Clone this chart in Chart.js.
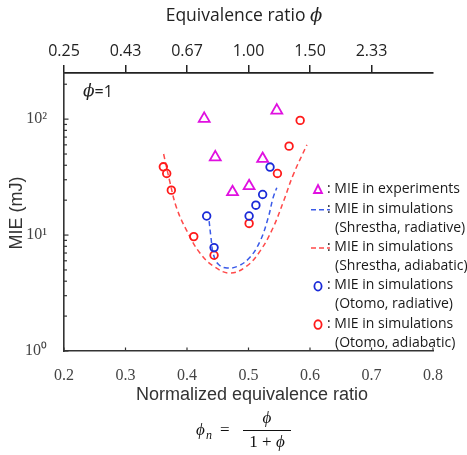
<!DOCTYPE html>
<html><head><meta charset="utf-8">
<script src="https://cdn.jsdelivr.net/npm/chart.js@4/dist/chart.umd.min.js"></script>
<style>html,body{margin:0;padding:0;background:#fff;}canvas{display:block;}</style>
</head><body>
<canvas id="c" width="467" height="455"></canvas>
<script>
// ---- data ----
const expX = [0.428, 0.446, 0.474, 0.501, 0.523, 0.546];
const expY = [101, 47, 23.5, 26.5, 45.5, 119];

const otomoRadX = [0.432, 0.444, 0.501, 0.512, 0.523, 0.535];
const otomoRadY = [14.6, 7.8, 14.6, 18.1, 22.4, 38.6];

const otomoAdiX = [0.3615, 0.367, 0.3745, 0.411, 0.444, 0.501, 0.547, 0.566, 0.584];
const otomoAdiY = [38.8, 34, 24.4, 9.7, 6.7, 12.6, 34, 58.5, 97.5];

const shrRadX = [0.436, 0.439, 0.443, 0.451, 0.465, 0.483, 0.502, 0.519, 0.532, 0.540, 0.546];
const shrRadY = [13.2, 9.5, 6.8, 5.6, 5.2, 5.4, 6.4, 8.9, 14.1, 21, 25.6];

const shrAdiX = [0.362, 0.372, 0.383, 0.400, 0.421, 0.443, 0.470, 0.497, 0.519, 0.540, 0.557, 0.573, 0.595];
const shrAdiY = [50, 29, 17.2, 10.8, 7.0, 5.4, 4.7, 5.4, 7.3, 11.6, 19.6, 33.4, 60];

const xTicks = [0.2, 0.3, 0.4, 0.5, 0.6, 0.7, 0.8];
const yTicks = [1, 10, 100];
const yTickLabels = ['10\u2070', '10\u00B9', '10\u00B2'];
const phiTickPos = [0.2, 0.3, 0.4, 0.5, 0.6, 0.7];
const phiTickLabels = ['0.25', '0.43', '0.67', '1.00', '1.50', '2.33'];

const legendLines = [
  ': MIE in experiments',
  ': MIE in simulations', '(Shrestha, radiative)',
  ': MIE in simulations', '(Shrestha, adiabatic)',
  ': MIE in simulations', '(Otomo, radiative)',
  ': MIE in simulations', '(Otomo, adiabatic)'
];

// ---- styles ----
const MAG = '#e010e0', BLUE = '#1a2ad8', RED = '#ff1a1a', BLUE_L = '#3a5ae8', RED_L = '#ff4a4a';
const pts = (xs, ys) => xs.map((x, i) => ({x, y: ys[i]}));

const overlay = {
  id: 'overlay',
  afterDraw(chart) {
    const ctx = chart.ctx, xs = chart.scales.x, ys = chart.scales.y;
    ctx.save();
    ctx.strokeStyle = '#333'; ctx.lineWidth = 1.2;
    const ln = (a, b, c, d) => { ctx.beginPath(); ctx.moveTo(a, b); ctx.lineTo(c, d); ctx.stroke(); };
    xTicks.forEach(v => { const px = xs.getPixelForValue(v); ln(px, ys.bottom, px, ys.bottom - 3.5); });
    yTicks.forEach(d => {
      for (let m = 1; m <= 9; m++) {
        const v = m * d; if (v > ys.max) break;
        const py = ys.getPixelForValue(v);
        ln(xs.left, py, xs.left + (m === 1 ? 4.5 : 3), py);
      }
    });
    ctx.fillStyle = '#222';
    ctx.textBaseline = 'middle';
    // top title
    const t1 = 'Equivalence ratio ';
    ctx.font = 'italic 18px "DejaVu Serif"';
    const wphi = ctx.measureText('\u03D5').width;
    ctx.font = '17.5px "Open Sans"';
    const w1 = ctx.measureText(t1).width;
    let sx = 244 - (w1 + wphi) / 2;
    ctx.textAlign = 'left';
    ctx.fillText(t1, sx, 16);
    ctx.font = 'italic 18px "DejaVu Serif"';
    ctx.fillText('\u03D5', sx + w1, 16);
    // phi=1
    ctx.font = 'italic 17px "DejaVu Serif"';
    ctx.fillText('\u03D5', 83, 92);
    const wp = ctx.measureText('\u03D5').width;
    ctx.font = '16px "Open Sans"';
    ctx.fillText('=1', 83 + wp, 92);
    // y title
    ctx.save();
    ctx.translate(17, 213); ctx.rotate(-Math.PI / 2);
    ctx.textAlign = 'center';
    ctx.font = '18px "Liberation Sans"';
    ctx.fillStyle = '#333';
    ctx.fillText('MIE (mJ)', 0, 0);
    ctx.restore();
    // x title
    ctx.textAlign = 'center';
    ctx.fillStyle = '#333';
    ctx.font = '18px "Liberation Sans"';
    ctx.fillText('Normalized equivalence ratio', 252, 395);
    // formula
    ctx.fillStyle = '#111';
    ctx.font = 'italic 17px "Liberation Serif"';
    ctx.textAlign = 'left';
    ctx.fillText('\u03D5', 196, 431);
    ctx.font = 'italic 12px "Liberation Serif"';
    ctx.fillText('n', 206, 436);
    ctx.font = '17px "Liberation Serif"';
    ctx.fillText('=', 220, 431);
    ctx.strokeStyle = '#111'; ctx.lineWidth = 1;
    ln(243, 430.5, 291, 430.5);
    ctx.textAlign = 'center';
    ctx.font = 'italic 17px "Liberation Serif"';
    ctx.fillText('\u03D5', 267, 419);
    ctx.font = '17px "Liberation Serif"';
    const d1 = '1 + ';
    const wd1 = ctx.measureText(d1).width;
    ctx.font = 'italic 17px "Liberation Serif"';
    const wd2 = ctx.measureText('\u03D5').width;
    const dx = 267 - (wd1 + wd2) / 2;
    ctx.textAlign = 'left';
    ctx.font = '17px "Liberation Serif"';
    ctx.fillText(d1, dx, 443);
    ctx.font = 'italic 17px "Liberation Serif"';
    ctx.fillText('\u03D5', dx + wd1, 443);
    // legend
    const ly0 = 189.5, lstep = 19.15, mx = 318;
    ctx.font = '14px "Open Sans"';
    ctx.fillStyle = '#1a1a1a';
    ctx.textAlign = 'left';
    legendLines.forEach((s, i) => {
      const y = ly0 + i * lstep;
      ctx.fillText(s, s.startsWith(':') ? 327 : 335, y);
    });
    ctx.lineWidth = 1.8;
    ctx.strokeStyle = MAG;
    let y = ly0;
    ctx.beginPath(); ctx.moveTo(mx, y - 4.5); ctx.lineTo(mx + 4, y + 3.5); ctx.lineTo(mx - 4, y + 3.5); ctx.closePath(); ctx.stroke();
    ctx.lineWidth = 1.5;
    [[BLUE_L, ly0 + lstep], [RED_L, ly0 + 3 * lstep]].forEach(([c, yy]) => {
      ctx.strokeStyle = c; ctx.setLineDash([5, 3]);
      ln(311, yy + 1, 330, yy + 1);
      ctx.setLineDash([]);
    });
    ctx.lineWidth = 1.8;
    [[BLUE, ly0 + 5 * lstep], [RED, ly0 + 7 * lstep]].forEach(([c, yy]) => {
      ctx.strokeStyle = c;
      ctx.beginPath(); ctx.ellipse(mx, yy + 1, 3.6, 4.3, 0, 0, Math.PI * 2); ctx.stroke();
    });
    ctx.restore();
  }
};

new Chart(document.getElementById('c'), {
  type: 'scatter',
  data: {
    datasets: [
      { label: 'exp', data: pts(expX, expY), pointStyle: 'triangle', pointRadius: 6.3, borderColor: MAG, backgroundColor: 'rgba(0,0,0,0)', borderWidth: 1.8, order: 1 },
      { label: 'otomo rad', data: pts(otomoRadX, otomoRadY), pointStyle: 'circle', pointRadius: 3.8, borderColor: BLUE, backgroundColor: 'rgba(0,0,0,0)', borderWidth: 1.8, order: 2 },
      { label: 'otomo adi', data: pts(otomoAdiX, otomoAdiY), pointStyle: 'circle', pointRadius: 3.8, borderColor: RED, backgroundColor: 'rgba(0,0,0,0)', borderWidth: 1.8, order: 3 },
      { label: 'shr rad', data: pts(shrRadX, shrRadY), showLine: true, pointRadius: 0, borderColor: BLUE_L, borderWidth: 1.5, borderDash: [5, 3.5], tension: 0.4, order: 4 },
      { label: 'shr adi', data: pts(shrAdiX, shrAdiY), showLine: true, pointRadius: 0, borderColor: RED_L, borderWidth: 1.5, borderDash: [5, 3.5], tension: 0.4, order: 5 }
    ]
  },
  options: {
    responsive: false, animation: false,
    layout: { padding: { left: 0, right: 34, top: 0, bottom: 0 } },
    plugins: { legend: { display: false }, tooltip: { enabled: false } },
    scales: {
      x: {
        type: 'linear', position: 'bottom', min: 0.2, max: 0.8,
        afterBuildTicks: s => { s.ticks = xTicks.map(v => ({value: v})); },
        afterFit: s => { s.height = 104; },
        ticks: { callback: v => v.toFixed(1), font: { family: '"Liberation Serif"', size: 16 }, color: '#444', padding: 7, maxRotation: 0 },
        grid: { display: false },
        border: { display: true, color: '#333', width: 1.6 }
      },
      x2: {
        type: 'linear', position: 'top', min: 0.2, max: 0.8,
        afterBuildTicks: s => { s.ticks = phiTickPos.map(v => ({value: v})); },
        afterFit: s => { s.height = 73; },
        ticks: { callback: (v, i) => phiTickLabels[i], font: { family: '"Open Sans"', size: 16 }, color: '#222', padding: 4, maxRotation: 0 },
        grid: { display: true, drawOnChartArea: false, drawTicks: true, tickLength: 8, color: '#222', lineWidth: 1.5 },
        border: { display: true, color: '#222', width: 1.7 }
      },
      y: {
        type: 'logarithmic', position: 'left', min: 1, max: 250,
        afterBuildTicks: s => { s.ticks = yTicks.map(v => ({value: v})); },
        afterFit: s => { s.width = 64; },
        ticks: { callback: (v, i) => yTickLabels[i], font: { family: '"Liberation Serif"', size: 16 }, color: '#444', padding: 9 },
        grid: { display: false },
        border: { display: true, color: '#333', width: 1.6 }
      }
    }
  },
  plugins: [overlay]
});
</script>
</body></html>
